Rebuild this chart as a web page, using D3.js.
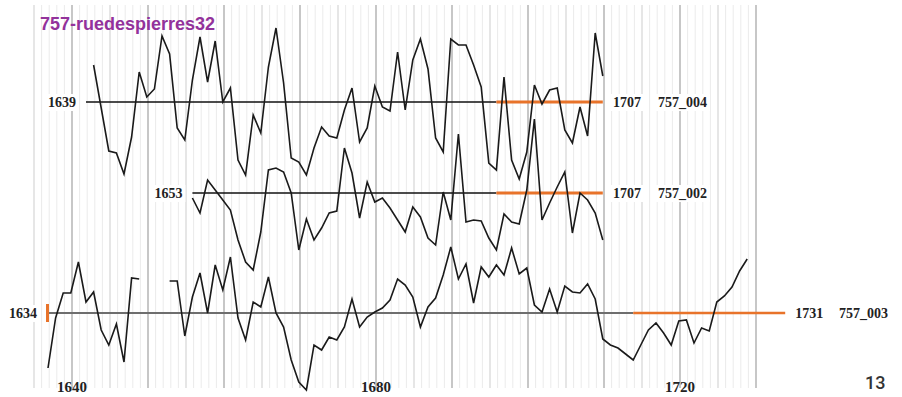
<!DOCTYPE html>
<html>
<head>
<meta charset="utf-8">
<script src="https://cdn.jsdelivr.net/npm/d3@7"></script>
<style>
  html, body { margin: 0; padding: 0; background: #fff; }
  svg { display: block; }
</style>
</head>
<body>
<svg id="chart" width="902" height="397"></svg>
<script>
// ---------- DATA ----------
const title = "757-ruedespierres32";
const pageNumber = "13";
const axisTickYears = [1640, 1680, 1720];
const gridFirstYear = 1635;
const gridLastYear = 1730;

const seriesNames = ["757_004", "757_002", "757_003"];
const seriesFirstYear = [1639, 1653, 1634];
const seriesLastYear = [1707, 1707, 1731];
const seriesSapStart = [1693, 1693, 1711];
const seriesDataStart = [1640, 1653, 1634];

// ring-width indices (deviation from the mean line, up = wider)
const values004 = [37, -6, -49, -51, -72, -35, 30, 5, 13, 66,
  48, -26, -38, 22, 65, 20, 61, 0, 14, -58,
  -73, -13, -31, 35, 74, 19, -56, -60, -73, -46,
  -25, -34, -36, -8, 14, -40, -26, 16, -5, -9,
  50, -8, 42, 63, 33, -36, -50, 63, 57, 57,
  37, 15, -61, -68, 25, -58, -77, -50, 17, -2,
  12, 14, -28, -41, -5, -34, 69, 26];

const values002 = [-5, -20, 13, 3, -7, -17, -47, -69, -77, -39,
  23, 25, 21, 0, -57, -26, -47, -35, -20, -18,
  45, 20, -25, 11, -9, -5, -15, -27, -39, -14,
  -24, -45, -52, 1, -27, 59, -29, -27, -28, -45,
  -57, -21, -29, -31, 3, 74, -27, -10, 6, 21,
  -40, 0, -7, -20, -47];

const values003 = [-55, -5, 20, 20, 51, 11, 21, -17, -32, -11,
  -49, 35, 34, null, null, null, 32, 32, -23, 16,
  40, 0, 48, 23, 56, -5, -27, 11, 6, 36,
  0, -14, -47, -69, -77, -32, -37, -24, -27, -14,
  14, -14, -4, 1, 5, 13, 34, 28, 16, -14,
  6, 15, 38, 66, 34, 49, 10, 46, 36, 48,
  38, 65, 39, 45, 8, 1, 24, 1, 27, 21,
  20, 29, 14, -26, -32, -35, -41, -47, -32, -17,
  -10, -20, -32, -8, -7, -30, -15, -18, 11, 17,
  26, 42, 54];

const seriesValues = [values004, values002, values003];

// ---------- LAYOUT / STYLE ----------
const baselines = [102, 193, 313];
const orange = "#e8732a";
const svg = d3.select("#chart");

const x = d3.scaleLinear().domain([1634, 1731]).range([48, 785.2]);   // series
const gx = d3.scaleLinear().domain([1640, 1720]).range([72, 680]);    // calendar grid

// grid
const gridG = svg.append("g");
d3.range(gridFirstYear, gridLastYear + 1).forEach(yr => {
  const dec = yr % 10 === 0, half = yr % 5 === 0;
  gridG.append("line")
    .attr("x1", gx(yr)).attr("x2", gx(yr))
    .attr("y1", 5).attr("y2", 388)
    .attr("stroke", dec ? "#a9a9a9" : (half ? "#cdcdcd" : "#ebebeb"))
    .attr("stroke-width", dec ? 1.3 : 1);
});

// axis tick labels
const axisG = svg.append("g");
axisTickYears.forEach(yr => {
  axisG.append("text")
    .attr("x", gx(yr)).attr("y", 392)
    .attr("text-anchor", "middle")
    .attr("font-family", "Liberation Serif, serif")
    .attr("font-weight", "bold")
    .attr("font-size", 15)
    .attr("fill", "#222")
    .text(yr);
});

function labelWithBg(g, xPos, yPos, txt, anchor) {
  const t = g.append("text")
    .attr("x", xPos).attr("y", yPos)
    .attr("text-anchor", anchor)
    .attr("font-family", "Liberation Serif, serif")
    .attr("font-weight", "bold")
    .attr("font-size", 14)
    .attr("fill", "#222")
    .text(txt);
  const b = t.node().getBBox();
  g.insert("rect", "text")
    .attr("x", b.x - 3).attr("y", b.y - 1)
    .attr("width", b.width + 6).attr("height", b.height + 2)
    .attr("fill", "#fff");
}

seriesNames.forEach((name, i) => {
  const base = baselines[i];
  const y = d3.scaleLinear().domain([0, 100]).range([base, base - 100]);
  const g = svg.append("g");
  const isLast = i === 2;

  // mean line (heartwood part)
  g.append("line")
    .attr("x1", x(seriesFirstYear[i])).attr("x2", x(seriesSapStart[i]))
    .attr("y1", y(0)).attr("y2", y(0))
    .attr("stroke", isLast ? "#6e6e6e" : "#111")
    .attr("stroke-width", isLast ? 2.2 : 1.3);
  // sapwood part
  g.append("line")
    .attr("x1", x(seriesSapStart[i])).attr("x2", x(seriesLastYear[i]))
    .attr("y1", y(0)).attr("y2", y(0))
    .attr("stroke", orange)
    .attr("stroke-width", isLast ? 2.6 : 3);
  if (isLast) {
    g.append("line")
      .attr("x1", x(seriesFirstYear[i]) - 0.5).attr("x2", x(seriesFirstYear[i]) - 0.5)
      .attr("y1", y(0) - 9).attr("y2", y(0) + 9)
      .attr("stroke", orange).attr("stroke-width", 3);
  }

  // ring-width curve
  const pts = seriesValues[i].map((v, k) => ({ year: seriesDataStart[i] + k, v }));
  const line = d3.line().defined(d => d.v !== null).x(d => x(d.year)).y(d => y(d.v));
  g.append("path")
    .attr("d", line(pts))
    .attr("fill", "none")
    .attr("stroke", "#1a1a1a")
    .attr("stroke-width", 1.6)
    .attr("stroke-linejoin", "miter");

  // labels
  const lg = svg.append("g");
  labelWithBg(lg, x(seriesFirstYear[i]) - (isLast ? 11 : 10), base + 5, seriesFirstYear[i], "end");
  const endX = isLast ? x(seriesLastYear[i]) + 10 : 613;
  labelWithBg(lg, endX, base + 5, seriesLastYear[i], "start");
  labelWithBg(lg, isLast ? 839 : 658, base + 5, name, "start");
});

// title
svg.append("text")
  .attr("x", 40).attr("y", 30)
  .attr("font-family", "Liberation Sans, Arial, sans-serif")
  .attr("font-weight", "bold")
  .attr("font-size", 18)
  .attr("fill", "#93329b")
  .text(title);

// page number
svg.append("text")
  .attr("x", 865).attr("y", 389)
  .attr("font-family", "Roboto, sans-serif")
  .attr("font-weight", 500)
  .attr("font-size", 18)
  .attr("fill", "#333")
  .text(pageNumber);
</script>
</body>
</html>
